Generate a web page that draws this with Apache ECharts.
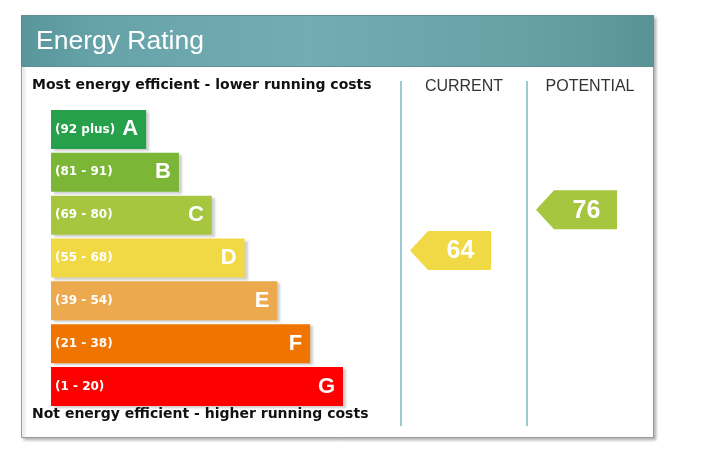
<!DOCTYPE html>
<html>
<head>
<meta charset="utf-8">
<script src="https://cdn.jsdelivr.net/npm/echarts@6/dist/echarts.min.js"></script>
<style>
html, body { margin: 0; padding: 0; background: #fff; }
#chart { width: 724px; height: 457px; }
</style>
</head>
<body>
<div id="chart"></div>
<script>
// rating bands
var bandLetters = ['A', 'B', 'C', 'D', 'E', 'F', 'G'];
var bandMin = [92, 81, 69, 55, 39, 21, 1];
var bandMax = [100, 91, 80, 68, 54, 38, 20];
var bandLength = [29, 39, 49, 59, 69, 79, 89];
var bandColors = ['#27a04b', '#7cb636', '#a6c640', '#f0d945', '#eca94e', '#ef7400', '#fd0000'];

// current / potential
var columns = ['CURRENT', 'POTENTIAL'];
var ratings = [64, 76];

var barH = 39;

function bandLabel(i) {
    if (i === 0) return '(' + bandMin[0] + ' plus)';
    return '(' + bandMin[i] + ' - ' + bandMax[i] + ')';
}
function bandOf(v) {
    for (var i = 0; i < bandMin.length; i++) {
        if (v >= bandMin[i] && v <= bandMax[i]) return i;
    }
    return bandMin.length - 1;
}

var chart = echarts.init(document.getElementById('chart'));

var option = {
    animation: false,
    backgroundColor: '#fff',
    graphic: [
        {   // panel
            type: 'rect', z: 0,
            shape: { x: 21.5, y: 15.5, width: 632, height: 422 },
            style: {
                fill: '#fff', stroke: '#9a9a9a', lineWidth: 1,
                shadowBlur: 3, shadowOffsetX: 2, shadowOffsetY: 2, shadowColor: 'rgba(0,0,0,0.3)'
            }
        },
        {   // header band
            type: 'rect', z: 1,
            shape: { x: 21.5, y: 15.5, width: 632, height: 51 },
            style: {
                stroke: '#5f8f93', lineWidth: 1,
                fill: {
                    type: 'linear', x: 0, y: 0, x2: 1, y2: 0,
                    colorStops: [
                        { offset: 0, color: '#58969c' },
                        { offset: 0.12, color: '#66a3a9' },
                        { offset: 0.45, color: '#73adb3' },
                        { offset: 0.8, color: '#67a1a6' },
                        { offset: 0.9, color: '#619ba0' },
                        { offset: 1, color: '#589297' }
                    ]
                }
            }
        }
    ],
    title: [
        {
            text: 'Energy Rating', left: 36, top: 28, padding: 0,
            textStyle: { color: '#fff', fontSize: 26.5, fontWeight: 'normal', fontFamily: 'Liberation Sans' }
        },
        {
            text: 'Most energy efficient - lower running costs', left: 32, top: 78, padding: 0,
            textStyle: { color: '#111', fontSize: 14, fontWeight: 'bold', fontFamily: 'DejaVu Sans' }
        },
        {
            text: 'Not energy efficient - higher running costs', left: 32, top: 407, padding: 0,
            textStyle: { color: '#111', fontSize: 14, fontWeight: 'bold', fontFamily: 'DejaVu Sans' }
        }
    ],
    grid: [
        { left: 51, top: 108, width: 292, height: 300 },
        { left: 401, top: 108, width: 252, height: 300 },
        { left: 401, top: 81, width: 252, height: 345 }
    ],
    xAxis: [
        { gridIndex: 0, type: 'value', min: 0, max: 89, show: false },
        {
            gridIndex: 1, type: 'category', data: columns, position: 'top',
            axisLine: { show: false }, axisTick: { show: false }, splitLine: { show: false },
            axisLabel: { color: '#333', fontSize: 16, fontFamily: 'Liberation Sans', margin: 13 }
        },
        {
            gridIndex: 2, type: 'category', data: columns,
            axisLine: { show: false }, axisTick: { show: false }, axisLabel: { show: false },
            splitLine: { show: true, showMaxLine: false, lineStyle: { color: '#9ecbd3', width: 2 } }
        }
    ],
    yAxis: [
        { gridIndex: 0, type: 'category', data: bandLetters, inverse: true, show: false },
        { gridIndex: 1, type: 'category', data: bandLetters, inverse: true, show: false },
        { gridIndex: 2, type: 'value', show: false }
    ],
    series: [
        {
            type: 'bar', xAxisIndex: 0, yAxisIndex: 0, barWidth: barH,
            data: bandLength.map(function (v, i) {
                return { value: v, itemStyle: { color: bandColors[i] } };
            }),
            itemStyle: {
                shadowBlur: 2, shadowOffsetX: 3, shadowOffsetY: 2, shadowColor: 'rgba(0,0,0,0.18)'
            },
            label: {
                show: true, position: 'insideLeft', distance: 4,
                formatter: function (p) { return bandLabel(p.dataIndex); },
                color: '#fff', fontSize: 12, fontWeight: 'bold', fontFamily: 'DejaVu Sans'
            },
            silent: true
        },
        {
            type: 'bar', xAxisIndex: 0, yAxisIndex: 0, barWidth: barH, barGap: '-100%',
            data: bandLength,
            itemStyle: { color: 'transparent' },
            label: {
                show: true, position: 'insideRight', distance: 8,
                formatter: function (p) { return bandLetters[p.dataIndex]; },
                color: '#fff', fontSize: 22, fontWeight: 'bold', fontFamily: 'Liberation Sans'
            },
            silent: true
        },
        {
            type: 'custom', xAxisIndex: 1, yAxisIndex: 1,
            data: ratings.map(function (v, i) { return [i, bandOf(v), v]; }),
            encode: { x: 0, y: 1 },
            renderItem: function (params, api) {
                var col = api.value(0), b = api.value(1), v = api.value(2);
                var c = api.coord([col, b]);
                var colW = api.size([1, 0])[0];
                var cy = c[1] - barH / 2 + (bandMax[b] - v) / (bandMax[b] - bandMin[b]) * barH;
                var x0 = c[0] - colW / 2 + 9;
                var tip = 18, w = 81, hh = barH / 2;
                return {
                    type: 'group',
                    children: [
                        {
                            type: 'polygon',
                            shape: { points: [[x0, cy], [x0 + tip, cy - hh], [x0 + w, cy - hh], [x0 + w, cy + hh], [x0 + tip, cy + hh]] },
                            style: { fill: bandColors[b] }
                        },
                        {
                            type: 'text',
                            x: x0 + tip + (w - tip) / 2 + 1, y: cy + 1,
                            style: {
                                text: String(v), fill: '#fff', align: 'center', verticalAlign: 'middle',
                                fontSize: 25, fontWeight: 'bold', fontFamily: 'Liberation Sans'
                            }
                        }
                    ]
                };
            },
            silent: true
        }
    ]
};

chart.setOption(option);
</script>
</body>
</html>
